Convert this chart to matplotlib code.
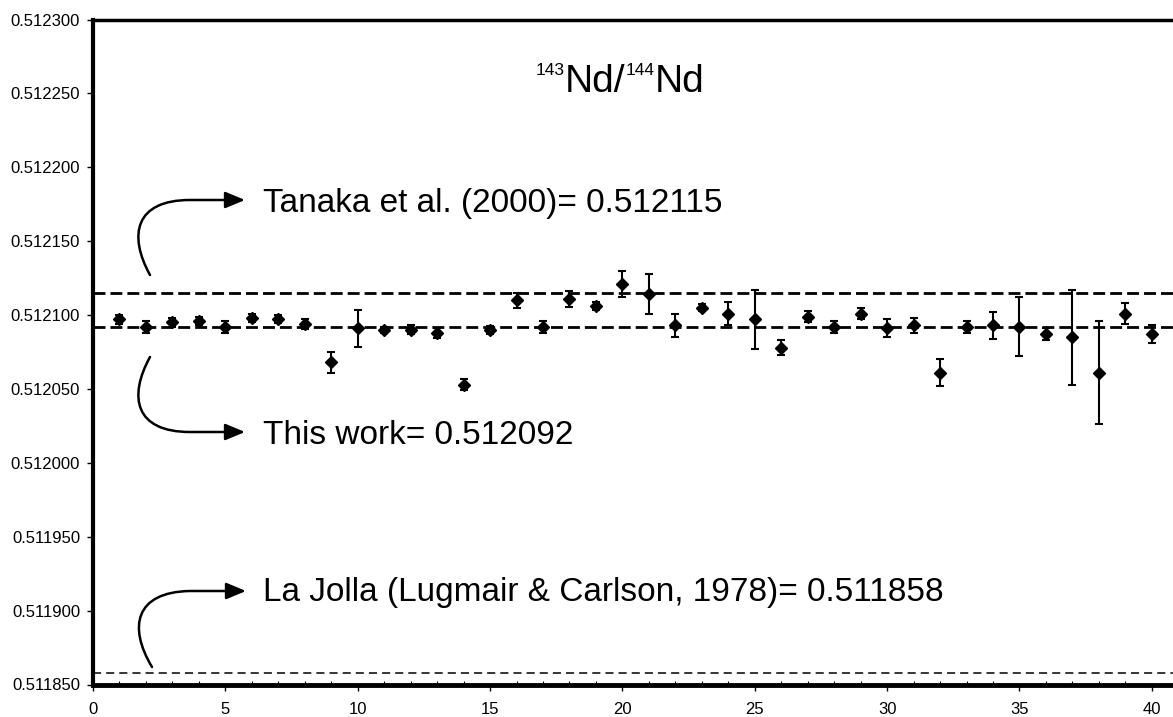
import numpy as np
import matplotlib.pyplot as plt
from matplotlib.path import Path
from matplotlib.patches import FancyArrowPatch

plt.rcParams['font.family'] = ['Liberation Sans', 'DejaVu Sans']

# run number and measured 143Nd/144Nd with 2 sigma errors
run = list(range(1, 41))
nd_ratio = [0.512097, 0.512092, 0.512095, 0.512096, 0.512092, 0.512098, 0.512097, 0.512094,
            0.512068, 0.512091, 0.512090, 0.512090, 0.512088, 0.512053, 0.512090, 0.512110,
            0.512092, 0.512111, 0.512106, 0.512121, 0.512114, 0.512093, 0.512105, 0.512101,
            0.512097, 0.512078, 0.512099, 0.512092, 0.512101, 0.512091, 0.512093, 0.512061,
            0.512092, 0.512093, 0.512092, 0.512087, 0.512085, 0.512061, 0.512101, 0.512087]
nd_err_ppm = [3, 4, 3, 3, 4, 2.5, 2.7, 3.5, 7, 12.5, 2, 3, 3.5, 3.5, 2.5, 5,
              4, 5.5, 2.5, 8.5, 13.5, 8, 2.5, 8, 20, 5, 3.5, 4, 4, 6, 5, 9,
              4, 9, 20, 4, 32, 35, 7, 6]

tanaka = 0.512115
this_work = 0.512092
la_jolla = 0.511858
y_ticks = [0.51185, 0.5119, 0.51195, 0.5120, 0.51205, 0.5121, 0.51215, 0.5122, 0.51225, 0.5123]
x_ticks = [0, 5, 10, 15, 20, 25, 30, 35, 40]

W, H = 1173, 717
fig = plt.figure(figsize=(W / 100, H / 100), dpi=100)
ax = fig.add_axes([93 / W, 1 - 684.5 / H, 1 - 93 / W, 665 / H])


def px(x, y):
    # pixel position (from top left) -> figure fraction
    return (x / W, 1 - y / H)


# reference lines
ax.axhline(tanaka, color='black', lw=2, dashes=(4.3, 1.8))
ax.axhline(this_work, color='black', lw=2, dashes=(4.3, 1.8))
ax.axhline(la_jolla, color='black', lw=1.1, dashes=(5.3, 3.3))

err = np.array(nd_err_ppm) * 1e-6
ax.errorbar(run, nd_ratio, yerr=err, fmt='D', color='black', ms=6.5,
            elinewidth=1.5, capsize=3.2, capthick=1.5, zorder=3)

ax.set_xlim(0, 40.8)
ax.set_ylim(0.51185, 0.5123)
ax.set_yticks(y_ticks)
ax.set_yticklabels(['%.6f' % v for v in y_ticks])
ax.set_xticks(x_ticks)
ax.set_xticks(range(0, 41), minor=True)
ax.tick_params(axis='both', which='major', labelsize=12, direction='out', length=4.3, width=1)
ax.tick_params(axis='y', which='major', pad=5)
ax.tick_params(axis='x', which='major', pad=8)
ax.tick_params(axis='x', which='minor', direction='in', length=3, width=0.8)

ax.spines['right'].set_visible(False)
ax.spines['left'].set_linewidth(3)
ax.spines['top'].set_linewidth(2.5)
ax.spines['bottom'].set_linewidth(3.5)

# title built from pieces: small superscript mass numbers
renderer = fig.canvas.get_renderer()
x = 536
for s, size, base in [('143', 12.5, 75), ('Nd/', 28, 92), ('144', 12.5, 75), ('Nd', 28, 92)]:
    t = fig.text(*px(x, base), s, fontsize=size, va='baseline')
    x += t.get_window_extent(renderer).width

# curved arrows and labels
curves = [
    [(150, 275), (128, 235), (135, 200), (190, 200), (245, 200)],
    [(150, 357), (128, 397), (135, 432), (190, 432), (245, 432)],
    [(152, 667), (128, 627), (135, 592), (190, 591), (246, 591)],
]
codes = [Path.MOVETO, Path.CURVE4, Path.CURVE4, Path.CURVE4, Path.LINETO]
for pts in curves:
    path = Path([px(*p) for p in pts], codes)
    arrow = FancyArrowPatch(path=path, arrowstyle='-|>,head_length=0.6,head_width=0.25',
                            mutation_scale=20, lw=1.8, color='black',
                            transform=fig.transFigure)
    fig.add_artist(arrow)

fig.text(*px(263, 211.7), 'Tanaka et al. (2000)= 0.512115', fontsize=24, va='baseline')
fig.text(*px(263, 444.3), 'This work= 0.512092', fontsize=24, va='baseline')
fig.text(*px(263, 601), 'La Jolla (Lugmair & Carlson, 1978)= 0.511858', fontsize=24, va='baseline')

fig.savefig('out.png', dpi=100)
plt.close(fig)
